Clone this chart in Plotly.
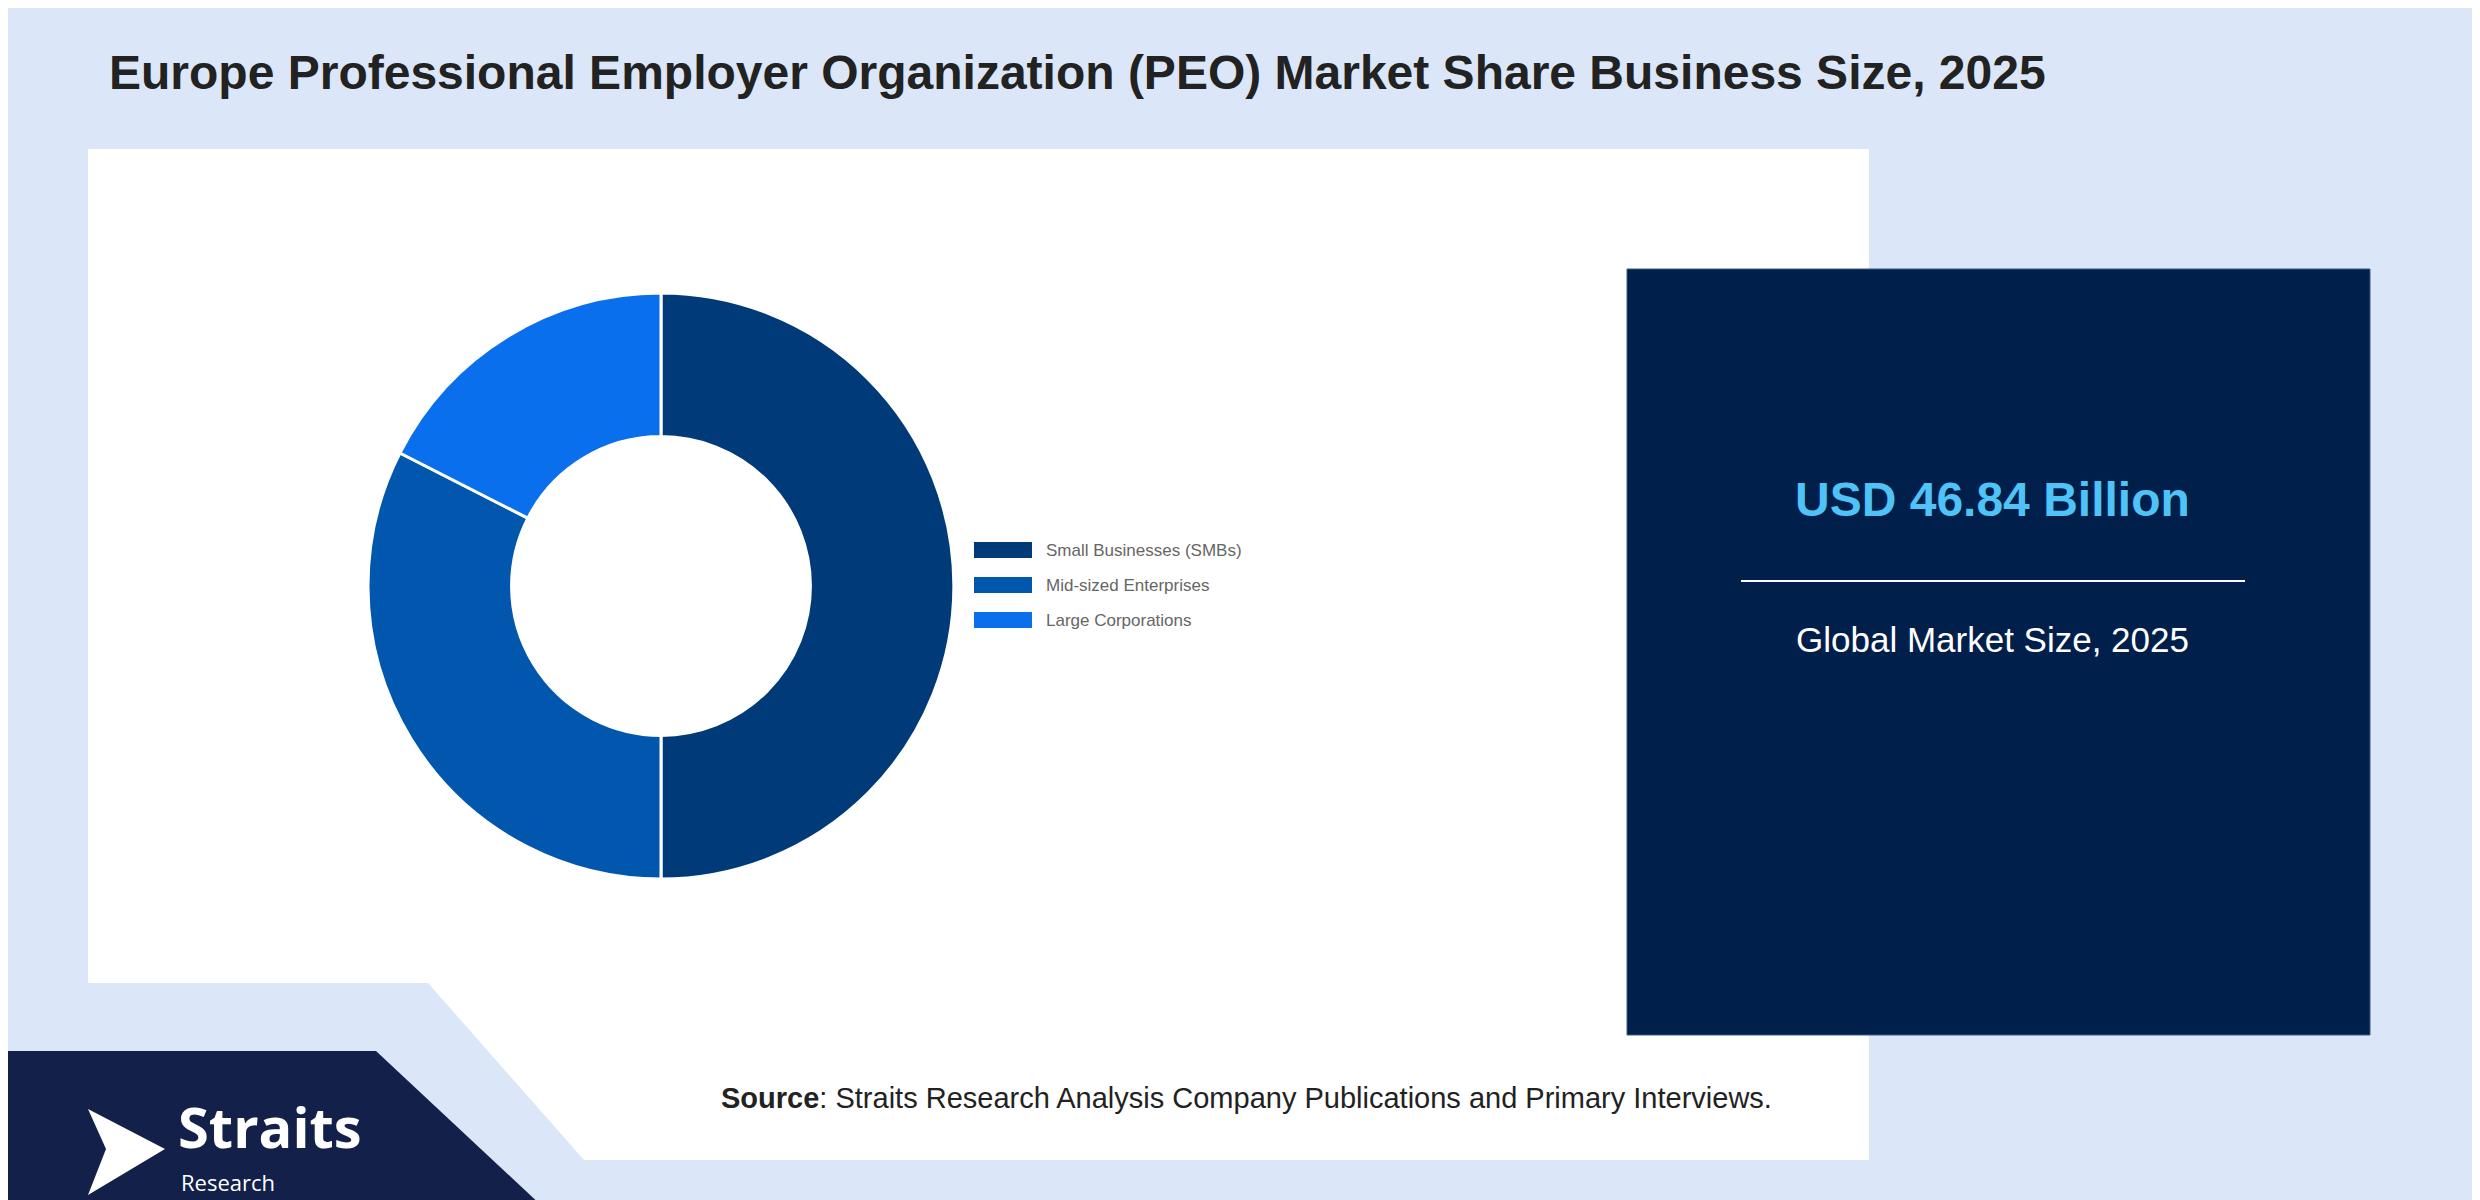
import plotly.graph_objects as go

labels = ["Small Businesses (SMBs)", "Mid-sized Enterprises", "Large Corporations"]
values = [50.0, 32.5, 17.5]
colors = ["#003a78", "#0057ad", "#0a6fec"]
W, H = 2480, 1200

def X(px): return px / W
def Y(py): return 1 - py / H

fig = go.Figure(go.Pie(
    labels=labels, values=values, hole=0.51, sort=False, direction="clockwise",
    rotation=0, marker=dict(colors=colors, line=dict(color="white", width=3)),
    textinfo="none", hoverinfo="label+percent", showlegend=False,
    domain=dict(x=[X(360), X(946)], y=[Y(871), Y(285)]),
))

def path(pts):
    return "M " + " L ".join(f"{X(x)} {Y(y)}" for x, y in pts) + " Z"

shapes = [
    dict(type="rect", xref="paper", yref="paper", x0=0, x1=1, y0=0, y1=1,
         fillcolor="#dbe7f8", line=dict(width=0), layer="below"),
    dict(type="path", xref="paper", yref="paper", layer="below",
         path=path([(80, 141), (1861, 141), (1861, 1152), (576, 1152), (420, 975), (80, 975)]),
         fillcolor="white", line=dict(width=0)),
    dict(type="path", xref="paper", yref="paper", layer="below",
         path=path([(0, 1043), (368, 1043), (536, 1200), (0, 1200)]),
         fillcolor="#13204a", line=dict(width=0)),
    dict(type="rect", xref="paper", yref="paper", layer="below",
         x0=X(1619), x1=X(2362), y0=Y(1027), y1=Y(261),
         fillcolor="#001f4a", line=dict(color="#3a5a8a", width=1)),
    dict(type="line", xref="paper", yref="paper",
         x0=X(1733), x1=X(2237), y0=Y(573), y1=Y(573),
         line=dict(color="white", width=2)),
    dict(type="path", xref="paper", yref="paper",
         path=path([(80, 1101), (157, 1141), (80, 1187), (98, 1141)]),
         fillcolor="white", line=dict(width=0)),
]

ann = [
    dict(text="<b>Europe Professional Employer Organization (PEO) Market Share Business Size, 2025</b>",
         x=X(99), y=Y(64), xanchor="left", yanchor="middle",
         font=dict(size=48, color="#222222", family="Liberation Sans")),
    dict(text="<b>USD 46.84 Billion</b>", x=X(1984), y=Y(491), xanchor="center", yanchor="middle",
         font=dict(size=48, color="#4fc3f7", family="Liberation Sans")),
    dict(text="Global Market Size, 2025", x=X(1984), y=Y(632), xanchor="center", yanchor="middle",
         font=dict(size=35, color="white", family="Liberation Sans")),
    dict(text="<b>Source</b>: Straits Research Analysis Company Publications and Primary Interviews.",
         x=X(1238), y=Y(1090), xanchor="center", yanchor="middle",
         font=dict(size=29, color="#222222", family="Liberation Sans")),
    dict(text="<b>Straits</b>", x=X(168), y=Y(1118), xanchor="left", yanchor="middle",
         font=dict(size=56, color="white", family="Open Sans")),
    dict(text="Research", x=X(171), y=Y(1174), xanchor="left", yanchor="middle",
         font=dict(size=22, color="white", family="Open Sans")),
]

for i, (lab, col) in enumerate(zip(labels, colors)):
    yc = 542 + i * 35
    shapes.append(dict(type="rect", xref="paper", yref="paper",
                       x0=X(966), x1=X(1024), y0=Y(yc + 8), y1=Y(yc - 8),
                       fillcolor=col, line=dict(width=0)))
    ann.append(dict(text=lab, x=X(1036), y=Y(yc), xanchor="left", yanchor="middle",
                    font=dict(size=17, color="#666666", family="Liberation Sans")))

for a in ann:
    a["xref"] = "paper"; a["yref"] = "paper"; a["showarrow"] = False

fig.update_layout(
    width=W, height=H, margin=dict(l=0, r=0, t=0, b=0),
    paper_bgcolor="white", plot_bgcolor="white",
    shapes=shapes, annotations=ann,
)
fig.write_html("out.html")
